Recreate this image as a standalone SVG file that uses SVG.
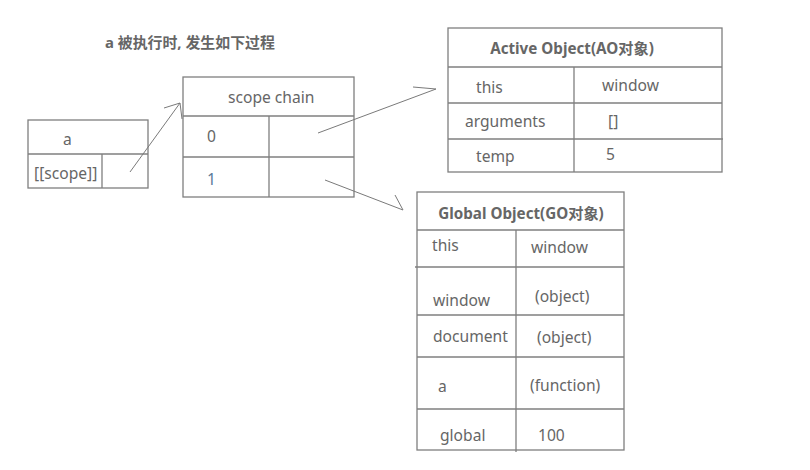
<svg xmlns="http://www.w3.org/2000/svg" width="810" height="470" viewBox="0 0 810 470">
<style>
.b{fill:none;stroke:#7f7f7f;stroke-width:1.3}
.c{fill:none;stroke:#7a7a7a;stroke-width:1}
text{font-family:"Noto Sans","Noto Sans CJK SC",sans-serif;font-size:15.6px;fill:#666}
.h{font-weight:bold;font-size:15.2px;fill:#666}
.t{font-weight:bold;font-size:14.9px;fill:#666}
</style>
<rect width="810" height="470" fill="#fff"/>
<text class="t" x="105" y="48">a 被执行时, 发生如下过程</text>
<g id="node-a">
<rect class="b" x="28" y="120" width="120" height="68"/>
<line class="b" x1="28" y1="154" x2="148" y2="154"/>
<line class="b" x1="102" y1="154" x2="102" y2="188"/>
<text x="63" y="145">a</text>
<text x="34" y="179">[[scope]]</text>
</g>
<g id="node-scope">
<rect class="b" x="183" y="77" width="171" height="120"/>
<line class="b" x1="183" y1="116" x2="354" y2="116"/>
<line class="b" x1="183" y1="157" x2="354" y2="157"/>
<line class="b" x1="269" y1="116" x2="269" y2="197"/>
<text x="228" y="103">scope chain</text>
<text x="207" y="142">0</text>
<text x="207" y="185" style="fill:#5c7a99">1</text>
</g>
<g id="node-ao">
<rect class="b" x="448" y="28" width="274" height="144"/>
<line class="b" x1="448" y1="67" x2="722" y2="67"/>
<line class="b" x1="448" y1="103" x2="722" y2="103"/>
<line class="b" x1="448" y1="139" x2="723" y2="139"/>
<line class="b" x1="574" y1="67" x2="574" y2="172"/>
<text class="h" x="572" y="54" text-anchor="middle">Active Object(AO对象)</text>
<text x="476" y="93">this</text>
<text x="602" y="91">window</text>
<text x="465" y="127">arguments</text>
<text x="608" y="127">[]</text>
<text x="476" y="162">temp</text>
<text x="606" y="160">5</text>
</g>
<g id="node-go">
<rect class="b" x="417" y="192" width="207" height="258"/>
<line class="b" x1="417" y1="230" x2="624" y2="230"/>
<line class="b" x1="415" y1="267" x2="624" y2="267"/>
<line class="b" x1="417" y1="315" x2="624" y2="315"/>
<line class="b" x1="417" y1="357" x2="624" y2="357"/>
<line class="b" x1="417" y1="409" x2="624" y2="409"/>
<line class="b" x1="516" y1="230" x2="516" y2="452"/>
<text class="h" x="521" y="219" text-anchor="middle">Global Object(GO对象)</text>
<text x="432" y="251">this</text>
<text x="531" y="253">window</text>
<text x="433" y="306">window</text>
<text x="535" y="302">(object)</text>
<text x="433" y="342">document</text>
<text x="537" y="343">(object)</text>
<text x="438" y="392">a</text>
<text x="530" y="391">(function)</text>
<text x="440" y="441">global</text>
<text x="538" y="441">100</text>
</g>
<g id="connectors">
<line class="c" x1="130" y1="172" x2="180" y2="103"/>
<line class="c" x1="164" y1="108" x2="180" y2="103"/>
<line class="c" x1="182" y1="119" x2="180" y2="103"/>
<line class="c" x1="318" y1="133" x2="436" y2="89"/>
<line class="c" x1="413" y1="87" x2="436" y2="89"/>
<line class="c" x1="325" y1="180" x2="403" y2="210"/>
<line class="c" x1="395" y1="195" x2="403" y2="210"/>
</g>
</svg>
